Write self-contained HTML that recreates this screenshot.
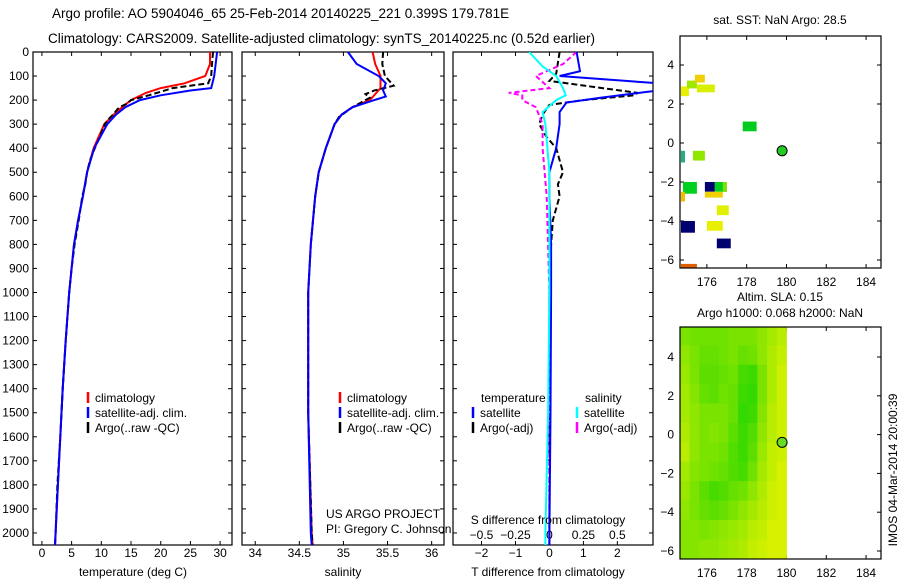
<!DOCTYPE html>
<html><head><meta charset="utf-8"><style>
body{margin:0;background:#fff}
svg{font-family:"Liberation Sans",sans-serif;font-size:12px}
</style></head><body>
<svg id="c" width="900" height="580" xmlns="http://www.w3.org/2000/svg">
<text x="52" y="18" font-size="13.5">Argo profile: AO 5904046_65 25-Feb-2014 20140225_221 0.399S 179.781E</text>
<text x="48" y="43" font-size="13.5">Climatology: CARS2009. Satellite-adjusted climatology: synTS_20140225.nc (0.52d earlier)</text>
</svg>
<script>
// ---- data ----
const depthTicks=[0,100,200,300,400,500,600,700,800,900,1000,1100,1200,1300,1400,1500,1600,1700,1800,1900,2000];
const tTicks=[0,5,10,15,20,25,30];
const sTicks=[34,34.5,35,35.5,36];
const dTTicks=[-2,-1,0,1,2];
const dSTicks=[-0.5,-0.25,0,0.25,0.5];
const climT_d=[0,50,100,130,150,170,200,250,300,400,500,600,700,800,900,1000,1200,1400,1600,1800,2000,2050];
const climT=[28.3,28.3,27.5,24,20,17.5,15,12.5,10.5,8.7,7.6,6.9,6.1,5.4,5.0,4.6,4.0,3.5,3.1,2.7,2.3,2.2];
const satT_d=[0,100,150,160,180,200,230,260,300,400,500,600,700,800,900,1000,1200,1400,1600,1800,2000,2050];
const satT=[29.5,29,28.5,25,20,16.5,14,12.5,11,8.8,7.6,6.9,6.1,5.4,5.0,4.6,4.0,3.5,3.1,2.7,2.3,2.2];
const argoT_d=[0,60,100,130,150,180,200,215,230,260,280,300,350,400,450,500,550,600,700,800,900,1000,1200,1400,1600,1800,2000,2050];
const argoT=[28.8,28.6,28.5,28,22,18,15,14.3,13,12,11.2,10.6,9.8,8.9,8.1,7.6,7.3,6.8,6.2,5.5,5.0,4.6,4.0,3.5,3.1,2.6,2.3,2.2];
const climS_d=[0,50,100,150,200,230,260,300,400,500,600,800,1000,1500,2000,2050];
const climS=[35.33,35.36,35.42,35.42,35.3,35.1,34.98,34.9,34.8,34.72,34.68,34.63,34.6,34.6,34.64,34.65];
const satS_d=[0,50,100,130,160,185,200,230,260,300,400,500,600,800,1000,1500,2000,2050];
const satS=[35.05,35.15,35.4,35.48,35.45,35.48,35.35,35.1,34.98,34.9,34.8,34.72,34.68,34.63,34.6,34.6,34.63,34.64];
const argoS_d=[0,50,100,140,160,175,190,210,230,270,300,400,500,600,800,1000,1500,2000,2050];
const argoS=[35.45,35.44,35.47,35.57,35.35,35.25,35.3,35.2,35.1,34.95,34.9,34.8,34.72,34.68,34.63,34.6,34.6,34.64,34.65];
const dT_sat_d=[0,80,100,130,160,190,210,250,300,400,500,600,800,1000,1500,2000,2050];
const dT_sat=[0.8,0.9,0.3,3.2,3.2,1.5,0.5,0.3,0.3,0.2,0.0,0.0,0.05,0.05,0.03,0.0,0.0];
const dT_argo_d=[0,90,120,170,180,200,220,260,300,350,400,450,500,550,600,700,800,1000,1500,2000,2050];
const dT_argo=[0.3,0.2,0,2.6,2.5,1.0,0,-0.2,-0.3,-0.1,0.2,0.3,0.4,0.25,0.3,0.1,0.05,0,0,0,0];
const dS_argo_d=[0,50,100,150,170,180,200,230,300,400,600,1000,2000,2050];
const dS_argo=[0.2,0.1,-0.1,0.0,-0.3,-0.2,-0.2,-0.1,-0.05,-0.05,-0.02,0.0,0.0,0.0];
const dS_sat_d=[0,60,100,150,180,200,250,300,500,1000,1500,2000,2050];
const dS_sat=[-0.15,-0.05,0.05,0.1,0.12,0.05,-0.05,-0.03,0,0,-0.01,-0.03,-0.03];
const lonTicks=[176,178,180,182,184];
const latTicks=[4,2,0,-2,-4,-6];
const sstCells=[[174.7,2.4,175.1,2.9,'#e8f000'],[175.0,2.8,175.5,3.2,'#a0e800'],[175.4,3.1,175.9,3.5,'#f0d000'],[175.5,2.6,176.4,3.0,'#d8f000'],[177.8,0.6,178.5,1.1,'#00cc20'],[174.7,-1.0,174.9,-0.4,'#20b080'],[175.3,-0.9,175.9,-0.4,'#90e800'],[174.8,-2.6,175.5,-2.0,'#00d020'],[174.7,-3.0,174.9,-2.5,'#f0c000'],[175.9,-2.5,176.4,-2.0,'#000070'],[176.4,-2.5,177.0,-2.0,'#00d020'],[175.9,-2.8,176.8,-2.5,'#f0d000'],[176.8,-2.5,177.0,-2.0,'#80e000'],[176.5,-3.7,177.1,-3.2,'#e0f000'],[176.0,-4.5,176.8,-4.0,'#e8f000'],[174.7,-4.6,175.4,-4.0,'#000070'],[176.5,-5.4,177.2,-4.9,'#000070'],[174.7,-6.4,175.5,-6.2,'#e06000']];
const slaGrid=[
[0.5,0.55,0.55,0.55,0.55,0.5,0.5,0.5,0.4,0.3,0.2],
[0.4,0.5,0.6,0.6,0.55,0.5,0.6,0.55,0.4,0.25,0.15],
[0.35,0.5,0.65,0.65,0.6,0.55,0.75,0.8,0.5,0.25,0.1],
[0.3,0.45,0.6,0.65,0.55,0.6,0.8,0.85,0.5,0.25,0.1],
[0.3,0.4,0.5,0.5,0.5,0.6,0.85,0.8,0.45,0.2,0.1],
[0.25,0.4,0.5,0.45,0.5,0.65,0.8,0.7,0.4,0.2,0.1],
[0.2,0.4,0.5,0.5,0.55,0.7,0.8,0.65,0.35,0.15,0.1],
[0.3,0.45,0.5,0.55,0.6,0.7,0.75,0.55,0.3,0.15,0.05],
[0.35,0.5,0.65,0.75,0.7,0.6,0.55,0.4,0.25,0.1,0.05],
[0.4,0.5,0.6,0.65,0.6,0.5,0.4,0.3,0.2,0.1,0.05],
[0.45,0.45,0.5,0.45,0.4,0.35,0.3,0.2,0.15,0.05,0.05],
[0.45,0.45,0.4,0.4,0.35,0.3,0.25,0.15,0.1,0.05,0.05]];
const argoPos=[179.78,-0.4];

// ---- drawing ----
const svg=document.getElementById('c');const NS='http://www.w3.org/2000/svg';
function mk(t,a,p){const e=document.createElementNS(NS,t);for(const k in a)e.setAttribute(k,a[k]);(p||svg).appendChild(e);return e;}
const Y0=52,Y1=545,D0=0,D1=2050;
const yD=d=>Y0+(d-D0)/(D1-D0)*(Y1-Y0);
function lin(a,b,p,q){return v=>p+(v-a)/(b-a)*(q-p);}
function box(x0,y0,x1,y1,name){const r=mk('rect',{x:x0,y:y0,width:x1-x0,height:y1-y0,fill:'none',stroke:'#000','stroke-width':1.2});}
function txt(x,y,s,anchor,name,extra){const t=mk('text',Object.assign({x:x,y:y,'text-anchor':anchor||'start'},extra||{}));t.textContent=s;return t;}
function line(x0,y0,x1,y1,col,w){return mk('line',{x1:x0,y1:y0,x2:x1,y2:y1,stroke:col||'#000','stroke-width':w||1});}
function clip(id,x0,y0,x1,y1){const c=mk('clipPath',{id:id});mk('rect',{x:x0,y:y0,width:x1-x0,height:y1-y0},c);}
function series(xs,ds,fx,col,dash,name,cl,w){const pts=xs.map((v,i)=>fx(v).toFixed(1)+','+yD(ds[i]).toFixed(1)).join(' ');const p=mk('polyline',{points:pts,fill:'none',stroke:col,'stroke-width':w||2,'clip-path':'url(#'+cl+')'});if(dash)p.setAttribute('stroke-dasharray',dash);}
function depthAxis(x0,x1,labels){depthTicks.forEach(d=>{const y=yD(d);line(x0,y,x0+4,y);line(x1,y,x1-4,y);if(labels)txt(x0-4,y+4,String(d),'end','depth-tick-label');});}
function xAxis(x0,x1,ticks,fx,ylab,name){ticks.forEach(v=>{const x=fx(v);line(x,Y1,x,Y1-4);line(x,Y0,x,Y0+4);if(ylab)txt(x,ylab,String(v).replace('-','\u2212'),'middle',name);});}
function legendItem(x,y,col,s,name){line(x,y-10,x,y+1,col,2.5);txt(x+7,y,s,'start',name);}

// panel 1 temperature
const fT=lin(-1.5,32,33,232);clip('c1',33,Y0,232,Y1);
box(33,Y0,232,Y1,'temperature-panel');depthAxis(33,232,true);xAxis(33,232,tTicks,fT,557,'temperature-tick-label');
series(climT,climT_d,fT,'#f00',null,'temperature-climatology-line','c1');
series(argoT,argoT_d,fT,'#000','6,3','temperature-argo-line','c1');
series(satT,satT_d,fT,'#00f',null,'temperature-satellite-line','c1');
txt(133,576,'temperature (deg C)','middle','temperature-axis-title');
legendItem(88,402,'#f00','climatology','legend-climatology');legendItem(88,417,'#00f','satellite-adj. clim.','legend-satellite');legendItem(88,432,'#000','Argo(..raw -QC)','legend-argo');

// panel 2 salinity
const fS=lin(33.85,36.14,242,444);clip('c2',242,Y0,444,Y1);
box(242,Y0,444,Y1,'salinity-panel');depthAxis(242,444,false);xAxis(242,444,sTicks,fS,557,'salinity-tick-label');
series(climS,climS_d,fS,'#f00',null,'salinity-climatology-line','c2');
series(argoS,argoS_d,fS,'#000','6,3','salinity-argo-line','c2');
series(satS,satS_d,fS,'#00f',null,'salinity-satellite-line','c2');
txt(343,576,'salinity','middle','salinity-axis-title');
legendItem(340,402,'#f00','climatology','legend-climatology-2');legendItem(340,417,'#00f','satellite-adj. clim.','legend-satellite-2');legendItem(340,432,'#000','Argo(..raw -QC)','legend-argo-2');
txt(326,518,'US ARGO PROJECT','start','project-label');txt(326,533,'PI: Gregory C. Johnson','start','pi-label');

// panel 3 differences
const fdT=lin(-2.84,3.05,453,653);const fdS=v=>fdT(v*4);clip('c3',453,Y0,653,Y1);
box(453,Y0,653,Y1,'difference-panel');depthAxis(453,653,false);xAxis(453,653,dTTicks,fdT,557,'t-diff-tick-label');
dSTicks.forEach(v=>txt(fdS(v),539,String(v).replace('-','\u2212'),'middle','s-diff-tick-label'));
series(dT_argo,dT_argo_d,fdT,'#000','6,3','t-diff-argo-line','c3');
series(dS_argo,dS_argo_d,fdS,'#f0f','5,3','s-diff-argo-line','c3');
series(dT_sat,dT_sat_d,fdT,'#00f',null,'t-diff-satellite-line','c3');
series(dS_sat,dS_sat_d,fdS,'#0ff',null,'s-diff-satellite-line','c3');
txt(548,524,'S difference from climatology','middle','s-diff-axis-title');
txt(548,576,'T difference from climatology','middle','t-diff-axis-title');
txt(481,402,'temperature','start','legend-temperature-header');txt(585,402,'salinity','start','legend-salinity-header');
legendItem(473,417,'#00f','satellite','legend-t-satellite');legendItem(473,432,'#000','Argo(-adj)','legend-t-argo');
legendItem(577,417,'#0ff','satellite','legend-s-satellite');legendItem(577,432,'#f0f','Argo(-adj)','legend-s-argo');

// maps
function mapAxes(y0,y1,lat4y,latm6y,name){const fx=lin(174.65,184.75,680,881);const fy=lin(4,-6,lat4y,latm6y);
 lonTicks.forEach(v=>{const x=fx(v);line(x,y1,x,y1-4);line(x,y0,x,y0+4);txt(x,y1+18,String(v),'middle',name+'-lon-tick');});
 latTicks.forEach(v=>{const y=fy(v);line(680,y,684,y);line(881,y,877,y);txt(674,y+4,String(v).replace('-','\u2212'),'end',name+'-lat-tick');});
 return [fx,fy];}
// SST map
const [sx,sy]=mapAxes(36,268,65,260,'sst-map');
clip('m1',680,36,881,268);
sstCells.forEach(c=>{const r=mk('rect',{x:sx(c[0]),y:sy(c[3]),width:sx(c[2])-sx(c[0]),height:sy(c[1])-sy(c[3]),fill:c[4],'clip-path':'url(#m1)'});});
box(680,36,881,268,'sst-map-panel');
mk('circle',{cx:sx(argoPos[0]),cy:sy(argoPos[1]),r:5,fill:'#22cc22',stroke:'#000'});
txt(780,24,'sat. SST: NaN Argo: 28.5','middle','sst-map-title');
// SLA map
const [ax,ay]=mapAxes(327,559,357,551,'sla-map');
clip('m2',680,327,881,559);
slaGrid.forEach((row,i)=>row.forEach((v,j)=>{const lo=174.65+j*0.486,la=5.6-i;const r=mk('rect',{x:ax(lo),y:ay(la),width:ax(lo+0.486)-ax(lo)+0.5,height:ay(la-1)-ay(la)+0.5,fill:'rgb('+Math.round(225-205*v)+','+Math.round(242-30*v)+',0)','clip-path':'url(#m2)'});}));
box(680,327,881,559,'sla-map-panel');
mk('circle',{cx:ax(argoPos[0]),cy:ay(argoPos[1]),r:5,fill:'#66dd22',stroke:'#000'});
txt(780,301,'Altim. SLA: 0.15','middle','sla-map-title');txt(780,317,'Argo h1000: 0.068 h2000: NaN','middle','sla-map-subtitle');
txt(897,470,'IMOS 04-Mar-2014 20:00:39','middle','timestamp-label',{transform:'rotate(-90 897 470)'});
</script>
</body></html>
